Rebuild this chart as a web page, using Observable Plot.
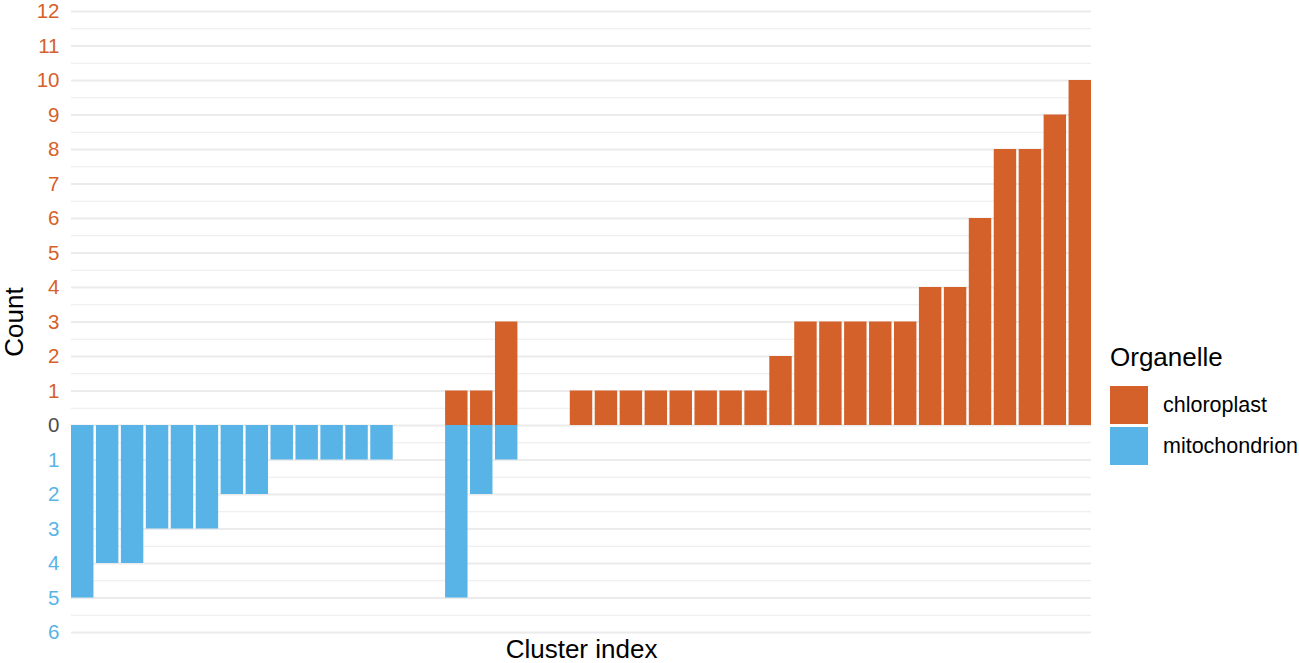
<!DOCTYPE html>
<html><head><meta charset="utf-8">
<script src="https://cdn.jsdelivr.net/npm/d3@7"></script>
<script src="https://cdn.jsdelivr.net/npm/@observablehq/plot@0.6"></script>
<style>
body{margin:0;background:#fff;font-family:"Liberation Sans",Arial,Helvetica,sans-serif;}
#wrap{position:relative;width:1299px;height:663px;overflow:hidden;}
#legend{position:absolute;left:1110px;top:343px;color:#000;white-space:nowrap;}
#legend .title{font-size:26px;line-height:28px;margin-bottom:15px;}
#legend .row{display:flex;align-items:center;height:38px;margin-bottom:3px;}
#legend .key{width:38px;height:38px;margin-right:15px;flex:none;}
#legend .lab{font-size:21.5px;}
</style></head><body><div id="wrap"></div>
<script>
const clusters = d3.range(1, 42);
const chloroplast = [0,0,0,0,0,0,0,0,0,0,0,0,0, 0,0, 1,1,3, 0,0, 1,1,1,1,1,1,1,1,2,3,3,3,3,3,4,4,6,8,8,9,10];
const mitochondrion = [5,4,4,3,3,3,2,2,1,1,1,1,1, 0,0, 5,2,1, 0,0, 0,0,0,0,0,0,0,0,0,0,0,0,0,0,0,0,0,0,0,0,0];
const yTicks = d3.range(-6, 13);
const gridMinor = d3.range(-5.5, 12, 1);
const organelles = ["chloroplast", "mitochondrion"];
const colors = ["#D5612A", "#58B4E7"];

const chloroData = clusters.map((c, i) => ({cluster: c, value: chloroplast[i]})).filter(d => d.value > 0);
const mitoData = clusters.map((c, i) => ({cluster: c, value: -mitochondrion[i]})).filter(d => d.value < 0);

const chart = Plot.plot({
  width: 1299,
  height: 663,
  marginLeft: 71,
  marginRight: 208,
  marginTop: 11,
  marginBottom: 31,
  style: {fontFamily: '"Liberation Sans", Arial, Helvetica, sans-serif', background: "#fff"},
  x: {type: "band", domain: clusters, paddingInner: 0.1, paddingOuter: 0, axis: null},
  y: {domain: [-6, 12], axis: null},
  marks: [
    Plot.ruleY(gridMinor, {stroke: "#ebebeb", strokeWidth: 1}),
    Plot.ruleY(yTicks, {stroke: "#ebebeb", strokeWidth: 1.8}),
    Plot.barY(mitoData, {x: "cluster", y1: 0, y2: "value", fill: colors[1]}),
    Plot.barY(chloroData, {x: "cluster", y1: 0, y2: "value", fill: colors[0]}),
    Plot.axisY({
      ticks: yTicks, tickFormat: d => Math.abs(d), tickSize: 0, tickPadding: 12,
      fontSize: 20.5, label: null,
      fill: d => d > 0 ? colors[0] : d < 0 ? colors[1] : "#4d4d4d"
    }),
    Plot.text(["Count"], {frameAnchor: "left", textAnchor: "middle", dx: -57, rotate: -90, fontSize: 26, fill: "#000", lineAnchor: "middle"}),
    Plot.text(["Cluster index"], {frameAnchor: "bottom", textAnchor: "middle", dy: 17, fontSize: 26, fill: "#000", lineAnchor: "middle"})
  ]
});
const wrap = document.getElementById("wrap");
wrap.appendChild(chart);

const legend = document.createElement("div");
legend.id = "legend";
legend.innerHTML = `<div class="title">Organelle</div>` +
  organelles.map((o, i) => `<div class="row"><div class="key" style="background:${colors[i]}"></div><div class="lab">${o}</div></div>`).join("");
wrap.appendChild(legend);
</script>
</body></html>
